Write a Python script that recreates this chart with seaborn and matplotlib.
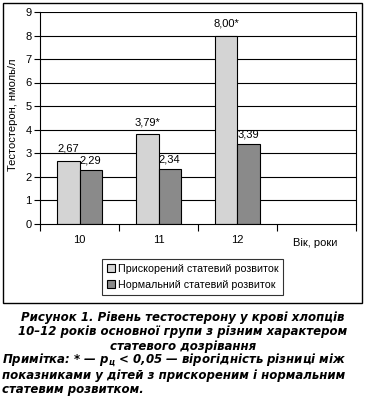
import numpy as np
import pandas as pd
import matplotlib
matplotlib.use("Agg")
import matplotlib.pyplot as plt
import seaborn as sns
from matplotlib.patches import Patch, Rectangle

# data
ages = ["10", "11", "12"]
accelerated = [2.67, 3.79, 8.00]
normal = [2.29, 2.34, 3.39]
acc_labels = ["2,67", "3,79*", "8,00*"]
norm_labels = ["2,29", "2,34", "3,39"]
series_names = ["Прискорений статевий розвиток", "Нормальний статевий розвиток"]
colors = ["#d4d4d4", "#8a8a8a"]

df = pd.DataFrame({
    "age": ages * 2,
    "value": accelerated + normal,
    "group": [series_names[0]] * 3 + [series_names[1]] * 3,
})

sns.set_style("white", {"text.color": "black", "xtick.color": "black",
                        "ytick.color": "black", "axes.labelcolor": "black"})
plt.rcParams["font.family"] = ["Liberation Sans", "DejaVu Sans"]
plt.rcParams["mathtext.fontset"] = "custom"
plt.rcParams["mathtext.rm"] = "DejaVu Sans:bold:italic"
plt.rcParams["mathtext.it"] = "DejaVu Sans:bold:italic"

W, H = 367, 404
fig = plt.figure(figsize=(W / 100, H / 100), dpi=100)
ax = fig.add_axes([40 / W, 1 - 223.5 / H, 316 / W, 211.5 / H])

order = ages + [" "]
sns.barplot(data=df, x="age", y="value", hue="group", order=order,
            hue_order=series_names, palette=colors, width=0.56, gap=0,
            edgecolor="black", linewidth=0.8, saturation=1, ax=ax, legend=False)

# value labels
for cont, labs, pad in zip(ax.containers, [acc_labels, norm_labels], [5, 3]):
    ax.bar_label(cont, labels=labs, padding=pad, fontsize=8)

ax.set_ylim(0, 9)
ax.set_xlim(-0.5, 3.5)
ax.set_yticks(range(0, 10))
ax.tick_params(axis="y", length=4, width=0.8, labelsize=8, pad=2, direction="out", left=True)
ax.set_xticks(np.arange(-0.5, 3.6, 1))
ax.set_xticklabels([])
ax.set_xticks(range(4), minor=True)
ax.set_xticklabels(order, minor=True, fontsize=8)
ax.tick_params(axis="x", which="major", length=5, width=0.8, direction="out", bottom=True)
ax.tick_params(axis="x", which="minor", length=0, pad=8)
for y in range(1, 10):
    ax.axhline(y, color="black", linewidth=0.8, zorder=0)
for side in ["left", "right", "bottom"]:
    ax.spines[side].set_visible(True)
    ax.spines[side].set_color("black")
    ax.spines[side].set_linewidth(0.8)
ax.spines["top"].set_visible(False)
ax.set_xlabel("")
ax.set_ylabel("")

fig.text(13 / W, 1 - 115 / H, "Тестостерон, нмоль/л", rotation=90,
         ha="center", va="center", fontsize=8)
fig.text(315 / W, 1 - 243 / H, "Вік, роки", ha="center", va="center", fontsize=8)

handles = [Patch(facecolor=c, edgecolor="black", linewidth=0.8) for c in colors]
leg = fig.legend(handles, series_names, loc="upper left",
                 bbox_to_anchor=(102 / W, 1 - 259 / H), fontsize=7.7,
                 frameon=True, fancybox=False, edgecolor="black",
                 handlelength=0.75, handleheight=0.75, handletextpad=0.3,
                 labelspacing=0.55, borderpad=0.45, borderaxespad=0)
leg.get_frame().set_linewidth(0.8)

# outer frame
fig.patches.append(Rectangle((3 / W, 1 - 303 / H), 359 / W, 300 / H,
                             transform=fig.transFigure, fill=False,
                             edgecolor="black", linewidth=1.0))

cap = dict(fontsize=8.5, fontweight="bold", fontstyle="italic", va="center",
           family=["DejaVu Sans"], color="black")
fig.text(183 / W, 1 - 318 / H, "Рисунок 1. Рівень тестостерону у крові хлопців", ha="center", **cap)
fig.text(183 / W, 1 - 332 / H, "10–12 років основної групи з різним характером", ha="center", **cap)
fig.text(183 / W, 1 - 346.5 / H, "статевого дозрівання", ha="center", **cap)
fig.text(2 / W, 1 - 360.5 / H, "Примітка: * — $p_{ц}$ < 0,05 — вірогідність різниці між", ha="left", **cap)
fig.text(2 / W, 1 - 375 / H, "показниками у дітей з прискореним і нормальним", ha="left", **cap)
fig.text(2 / W, 1 - 389.5 / H, "статевим розвитком.", ha="left", **cap)

fig.savefig("out.png", dpi=100)
